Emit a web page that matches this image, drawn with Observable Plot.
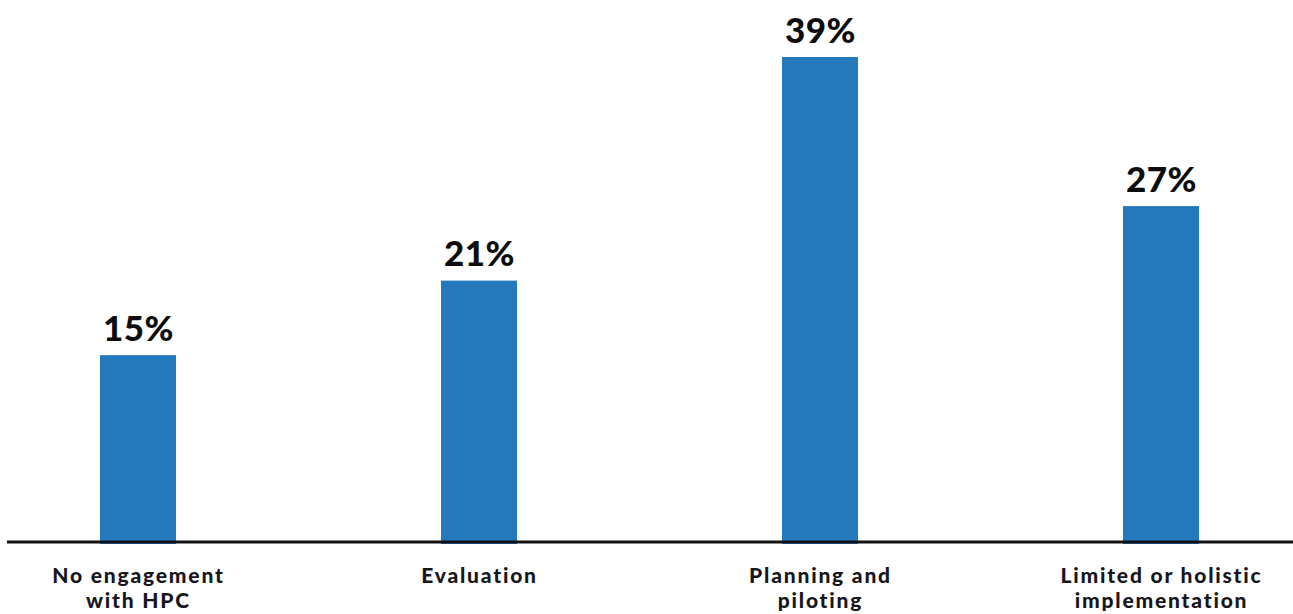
<!DOCTYPE html>
<html>
<head>
<meta charset="utf-8">
<script src="https://cdn.jsdelivr.net/npm/d3@7"></script>
<script src="https://cdn.jsdelivr.net/npm/@observablehq/plot@0.6"></script>
<style>
  html, body { margin: 0; padding: 0; background: #fff; }
  #chart svg { display: block; }
  .cat-label text { letter-spacing: 1.8px; }
  .val-label text { letter-spacing: 0.5px; }
</style>
</head>
<body>
<div id="chart"></div>
<script>
const categories = ["No engagement\nwith HPC", "Evaluation", "Planning and\npiloting", "Limited or holistic\nimplementation"];
const values = [15, 21, 39, 27];
const valueLabels = ["15%", "21%", "39%", "27%"];

const data = categories.map((c, i) => ({category: c, value: values[i], label: valueLabels[i]}));

const chart = Plot.plot({
  width: 1293,
  height: 614,
  marginTop: 57,
  marginBottom: 72.5,
  marginLeft: 7,
  marginRight: 0,
  style: {fontFamily: "Lato, 'Open Sans', sans-serif", background: "#fff"},
  x: {domain: categories, paddingInner: 0.777, paddingOuter: 0.274, axis: null},
  y: {domain: [0, 39], axis: null},
  marks: [
    Plot.barY(data, {x: "category", y: "value", fill: "#2479bd", insetBottom: -2.5}),
    Plot.ruleY([0], {stroke: "#111116", strokeWidth: 3}),
    Plot.text(data, {
      x: "category", y: "value", text: "label",
      lineAnchor: "bottom", dy: -15, className: "val-label",
      fontSize: 35, fontWeight: 900, fill: "#0d0d0d"
    }),
    Plot.text(data, {
      x: "category", y: 0, text: "category",
      lineAnchor: "top", dy: 23, lineHeight: 1.2, className: "cat-label",
      fontSize: 21, fontWeight: 900, fill: "#16161c"
    })
  ]
});
document.getElementById("chart").appendChild(chart);
</script>
</body>
</html>
